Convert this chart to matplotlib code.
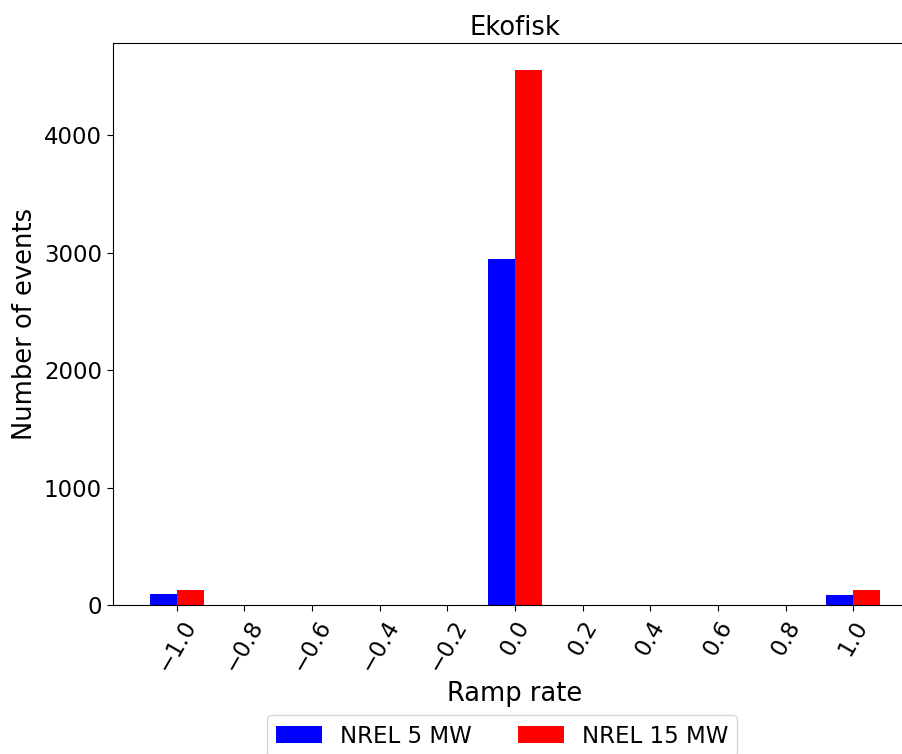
import numpy as np
import matplotlib
matplotlib.use("Agg")
import matplotlib.pyplot as plt

ramp_rates = [-1.0, 0.0, 1.0]
nrel_5mw = [92, 2945, 85]
nrel_15mw = [132, 4560, 128]
tick_values = [-1.0, -0.8, -0.6, -0.4, -0.2, 0.0, 0.2, 0.4, 0.6, 0.8, 1.0]

width = 0.08
x = np.array(ramp_rates)

fig = plt.figure(figsize=(9.03, 7.54), dpi=100)
ax = fig.add_axes([113 / 903, 1 - 605 / 754, (917 - 113) / 903, (605 - 43) / 754])

ax.bar(x - width / 2, nrel_5mw, width=width, color="blue", label="NREL 5 MW")
ax.bar(x + width / 2, nrel_15mw, width=width, color="red", label="NREL 15 MW")

ax.set_xticks(tick_values)
ax.set_xticklabels([f"{v:.1f}".replace("-", "\u2212") for v in tick_values],
                   rotation=60, fontsize=16.5)
ax.tick_params(axis="y", labelsize=16.5)
ax.tick_params(axis="both", length=4.5)
ax.set_yticks([0, 1000, 2000, 3000, 4000])

ax.set_xlabel("Ramp rate", fontsize=18.5)
ax.set_ylabel("Number of events", fontsize=18.5)
ax.set_title("Ekofisk", fontsize=18.5)

ax.legend(loc="upper center", bbox_to_anchor=(0.484, -0.176), ncol=2, fontsize=16.5)

fig.savefig("out.png", dpi=100)
